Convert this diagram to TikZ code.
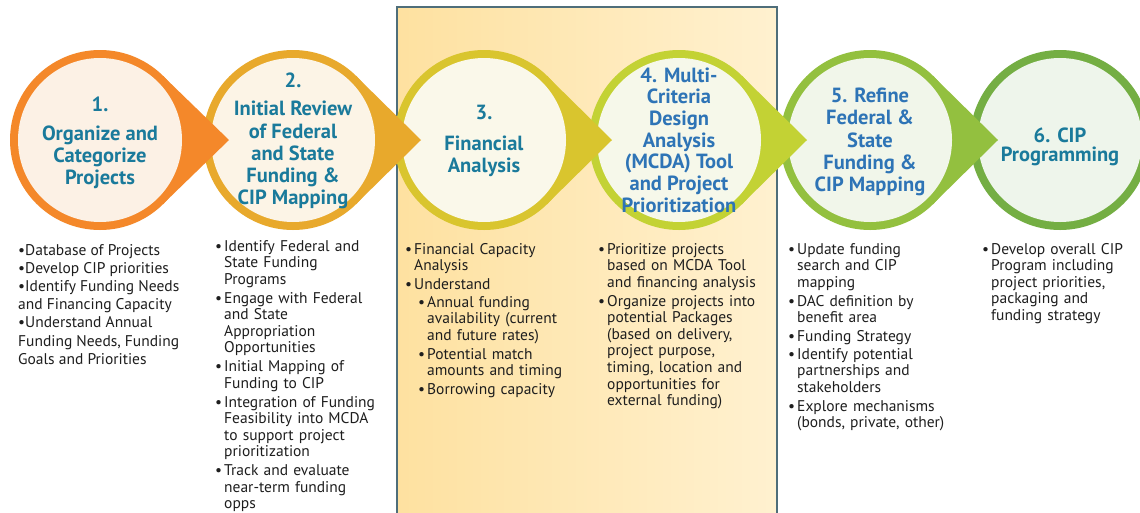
\documentclass[tikz,border=0pt]{standalone}
\usepackage{fontspec}
\setmainfont{PT Sans}
\definecolor{ring1}{HTML}{F4882A}
\definecolor{ring2}{HTML}{E8A92C}
\definecolor{ring3}{HTML}{D9C52E}
\definecolor{ring4}{HTML}{C3D234}
\definecolor{ring5}{HTML}{93C03F}
\definecolor{ring6}{HTML}{74AE43}
\definecolor{fill1}{HTML}{FCF1E5}
\definecolor{fill2}{HTML}{FCF4E6}
\definecolor{fill3}{HTML}{FAF8EA}
\definecolor{fill4}{HTML}{F6F8EA}
\definecolor{fill5}{HTML}{F1F6EA}
\definecolor{fill6}{HTML}{EEF5EB}
\definecolor{tealtxt}{HTML}{1A7A9B}
\definecolor{bluetxt}{HTML}{2E74B6}
\definecolor{bodytext}{HTML}{1E1E1E}
\definecolor{boxL}{HTML}{FEE1A0}
\definecolor{boxR}{HTML}{FFF1D0}
\definecolor{boxline}{HTML}{4F6E7A}
\newcommand{\titlefont}{\bfseries\fontsize{20.5}{22.2}\selectfont}
\newcommand{\bodyfontA}{\fontsize{15.5}{18.2}\selectfont}
\newcommand{\bodyfontB}{\fontsize{15.5}{16.6}\selectfont\setlength{\parskip}{1.2pt}}
\newcommand{\itemb}[1]{\par\noindent\makebox[9pt][l]{\textbullet}\parbox[t]{180pt}{\raggedright\strut #1\strut}}
\newcommand{\itemsub}[1]{\par\noindent\hspace*{13pt}\makebox[9pt][l]{\textbullet}\parbox[t]{170pt}{\raggedright\strut #1\strut}}
\tikzset{
  ringshape/.style={circle, inner sep=0pt, minimum size=180pt},
  disk/.style={circle, inner sep=0pt, minimum size=164pt},
  ttl/.style={align=center, font=\titlefont, inner sep=0pt},
  body/.style={anchor=north west, inner sep=0pt, align=left, text=bodytext},
  bodycol/.style={body, text width=200pt, font=\bodyfontB},
}
\begin{document}
\begin{tikzpicture}[x=1pt,y=-1pt]
\useasboundingbox (0,0) rectangle (1140,512);
\clip (0,0) rectangle (1140,512);
\fill[white] (0,0) rectangle (1140,512);
% highlighted band
\draw[line width=1.5pt, draw=boxline, left color=boxL, right color=boxR] (397,7) rectangle (777,530);
% stage 6
\coordinate (o6) at (1060,140);
\node[ringshape, fill=ring6] (c6) at (o6) {};
\node[disk, fill=fill6] (d6) at (o6) {};
\node[ttl, text=tealtxt, font=\bfseries\fontsize{20.5}{19}\selectfont] (l6) at (1060,147) {6. CIP\\Programming};
% stage 5
\coordinate (o5) at (870,140);
\coordinate (tip5) at (998,140);
\fill[ring5] (tip5) -- (933,76) -- (o5) -- (933,204) -- cycle;
\node[ringshape, fill=ring5] (c5) at (o5) {};
\node[disk, fill=fill5] (d5) at (o5) {};
\node[ttl, text=bluetxt] (l5) at (870,142) {5. Refine\\Federal \&\\State\\Funding \&\\CIP Mapping};
% stage 4
\coordinate (o4) at (679,140);
\coordinate (tip4) at (807,140);
\fill[ring4] (tip4) -- (742,76) -- (o4) -- (742,204) -- cycle;
\node[ringshape, fill=ring4] (c4) at (o4) {};
\node[disk, fill=fill4] (d4) at (o4) {};
\node[ttl, text=bluetxt, font=\bfseries\fontsize{20.5}{21.7}\selectfont] (l4) at (679,140) {4. Multi-\\Criteria\\Design\\Analysis\\(MCDA) Tool\\and Project\\Prioritization};
% stage 3
\coordinate (o3) at (484,140);
\coordinate (tip3) at (612,140);
\fill[ring3] (tip3) -- (547,76) -- (o3) -- (547,204) -- cycle;
\node[ringshape, fill=ring3] (c3) at (o3) {};
\node[disk, fill=fill3] (d3) at (o3) {};
\node[ttl, text=tealtxt] (l3) at (484,141) {3.\\[9pt]Financial\\Analysis};
% stage 2
\coordinate (o2) at (293,140);
\coordinate (tip2) at (421,140);
\fill[ring2] (tip2) -- (356,76) -- (o2) -- (356,204) -- cycle;
\node[ringshape, fill=ring2] (c2) at (o2) {};
\node[disk, fill=fill2] (d2) at (o2) {};
\node[ttl, text=tealtxt] (l2) at (293,141) {2.\\[6pt]Initial Review\\of Federal\\and State\\Funding \&\\CIP Mapping};
% stage 1
\coordinate (o1) at (100,140);
\coordinate (tip1) at (229,140);
\fill[ring1] (tip1) -- (163,76) -- (o1) -- (163,204) -- cycle;
\node[ringshape, fill=ring1] (c1) at (o1) {};
\node[disk, fill=fill1] (d1) at (o1) {};
\node[ttl, text=tealtxt] (l1) at (100,143) {1.\\[7pt]Organize and\\Categorize\\Projects};
% text columns
\node[body, font=\bodyfontA] (t1) at (18,244) {\textbullet Database of Projects\\\textbullet Develop CIP priorities\\\textbullet Identify Funding Needs\\and Financing Capacity\\\textbullet Understand Annual\\Funding Needs, Funding\\Goals and Priorities};
\node[bodycol] (t2) at (215,233) {%
\itemb{Identify Federal and\\State Funding\\Programs}
\itemb{Engage with Federal\\and State\\Appropriation\\Opportunities}
\itemb{Initial Mapping of\\Funding to CIP}
\itemb{Integration of Funding\\Feasibility into MCDA\\to support project\\prioritization}
\itemb{Track and evaluate\\near-term funding\\opps}};
\node[bodycol] (t3) at (405,236) {%
\itemb{Financial Capacity\\Analysis}
\itemb{Understand}
\itemsub{Annual funding\\availability (current\\and future rates)}
\itemsub{Potential match\\amounts and timing}
\itemsub{Borrowing capacity}};
\node[bodycol] (t4) at (598,236) {%
\itemb{Prioritize projects\\based on MCDA Tool\\and financing analysis}
\itemb{Organize projects into\\potential Packages\\(based on delivery,\\project purpose,\\timing, location and\\opportunities for\\external funding)}};
\node[bodycol] (t5) at (788,236) {%
\itemb{Update funding\\search and CIP\\mapping}
\itemb{DAC definition by\\benefit area}
\itemb{Funding Strategy}
\itemb{Identify potential\\partnerships and\\stakeholders}
\itemb{Explore mechanisms\\(bonds, private, other)}};
\node[bodycol] (t6) at (982,236) {%
\itemb{Develop overall CIP\\Program including\\project priorities,\\packaging and\\funding strategy}};
\end{tikzpicture}
\end{document}
